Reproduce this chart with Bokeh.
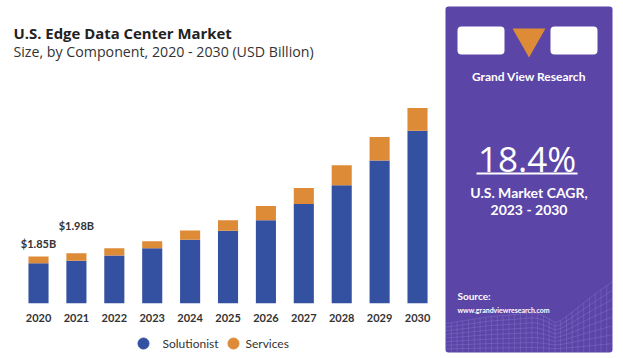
import numpy as np
from bokeh.plotting import figure
from bokeh.models import ColumnDataSource, Range1d, BoxAnnotation
from bokeh.core.properties import value
from bokeh.embed import file_html
from bokeh.resources import INLINE

# ---------------- data ----------------
years = [2020, 2021, 2022, 2023, 2024, 2025, 2026, 2027, 2028, 2029, 2030]
year_labels = [str(y) for y in years]
solutionist = [1.59, 1.68, 1.89, 2.18, 2.52, 2.87, 3.29, 3.94, 4.68, 5.66, 6.84]
services = [0.26, 0.30, 0.29, 0.28, 0.36, 0.42, 0.57, 0.63, 0.79, 0.93, 0.90]
series = ["Solutionist", "Services"]
series_colors = ["#3450a1", "#de8b37"]
value_label_years = [2020, 2021]
value_labels = ["$1.85B", "$1.98B"]
value_label_totals = [1.85, 1.98]
cagr_text = "18.4%"
cagr_caption = ["U.S. Market CAGR,", "2023 - 2030"]

# ---------------- figure ----------------
W, H = 623, 358
FONT = value("Lato")
TFONT = value("Open Sans")
PURPLE = "#5b45a7"

p = figure(width=W, height=H,
           x_range=Range1d(2018.997, 2035.435), y_range=Range1d(-2.194, 12.01),
           output_backend="svg", toolbar_location=None, min_border=0,
           x_axis_location=None, y_axis_location=None)
p.grid.visible = False
p.outline_line_color = None
p.background_fill_color = "white"
p.border_fill_color = "white"
p.extra_x_ranges = {"px": Range1d(0, W)}
p.extra_y_ranges = {"py": Range1d(H, 0)}
PX = dict(x_range_name="px", y_range_name="py")

# ---------------- bars ----------------
src = ColumnDataSource(dict(year=years, Solutionist=solutionist, Services=services))
p.vbar_stack(series, x="year", width=0.53, color=series_colors, line_color=None, source=src)

# year labels
p.text(x=years, y=[0] * len(years), text=year_labels, y_offset=15,
       text_align="center", text_baseline="middle", text_font=FONT,
       text_font_style="bold", text_font_size="11px", text_color="#333333")

# value labels
label_offsets = [-13, -28]
p.text(x=value_label_years, y=value_label_totals, text=value_labels, y_offset=label_offsets,
       text_align="center", text_baseline="middle", text_font=FONT,
       text_font_style="bold", text_font_size="11px", text_color="#333333")

# ---------------- titles ----------------
p.text(x=[13], y=[32], text=["U.S. Edge Data Center Market"], text_font=TFONT,
       text_font_style="bold", text_font_size="14.9px", text_baseline="middle",
       text_color="#222222", **PX)
p.text(x=[13], y=[51], text=["Size, by Component, 2020 - 2030 (USD Billion)"], text_font=TFONT,
       text_font_size="14.2px", text_baseline="middle", text_color="#333333", **PX)

# ---------------- legend ----------------
p.scatter(x=[143, 233], y=[343, 343], size=11, color=series_colors, **PX)
p.text(x=[162, 245], y=[343, 343], text=series, text_font=FONT, text_font_size="12px",
       text_baseline="middle", text_color="#333333", **PX)

# ---------------- side panel ----------------
panel = BoxAnnotation(left=445, right=612, top=6, bottom=352, fill_color=PURPLE, fill_alpha=1,
                      line_color=None, border_radius=3, level="underlay", **PX)
box1 = BoxAnnotation(left=457, right=504, top=26, bottom=54, fill_color="white", fill_alpha=1,
                     line_color=None, border_radius=4, level="underlay", **PX)
box2 = BoxAnnotation(left=550, right=597, top=26, bottom=54, fill_color="white", fill_alpha=1,
                     line_color=None, border_radius=4, level="underlay", **PX)
p.add_layout(panel)
p.add_layout(box1)
p.add_layout(box2)
p.patch(x=[512, 545, 528.5], y=[28, 28, 57], color="#de8b37", line_color=None, **PX)

# decorative wireframe terrain at the bottom of the panel
prof_x = np.array([445, 465, 490, 515, 535, 545, 556, 570, 590, 612], dtype=float)
prof_y = np.array([323, 320, 316, 314, 312, 316, 323, 313, 297, 281], dtype=float)
gx = np.linspace(445, 612, 30)
gtop = np.interp(gx, prof_x, prof_y)
hx, hy = [], []
for t in np.linspace(0, 1, 9)[:-1]:
    hx.append(list(gx))
    hy.append(list(gtop + t * (352 - gtop)))
vx = [[x, x] for x in gx]
vy = [[t, 352] for t in gtop]
p.multi_line(xs=hx + vx, ys=hy + vy, line_color="#b3a6ea", line_alpha=0.3, line_width=0.7, **PX)

p.text(x=[528.5], y=[76], text=["Grand View Research"], text_font=FONT, text_font_style="bold",
       text_font_size="12px", text_align="center", text_baseline="middle", text_color="white", **PX)
p.text(x=[526.5], y=[158], text=[cagr_text], text_font=TFONT, text_font_size="35px",
       text_align="center", text_baseline="middle", text_color="white", **PX)
p.segment(x0=[476], y0=[173], x1=[577], y1=[173], line_color="white", line_width=2, **PX)
p.text(x=[528.5, 528.5], y=[192, 209], text=cagr_caption, text_font=FONT, text_font_style="bold",
       text_font_size="14px", text_align="center", text_baseline="middle", text_color="white", **PX)
p.text(x=[457], y=[295], text=["Source:"], text_font=FONT, text_font_style="bold",
       text_font_size="10px", text_baseline="middle", text_color="white", **PX)
p.text(x=[457], y=[309], text=["www.grandviewresearch.com"], text_font=FONT, text_font_style="bold",
       text_font_size="7px", text_baseline="middle", text_color="white", **PX)

open("out.html", "w").write(file_html(p, INLINE))
